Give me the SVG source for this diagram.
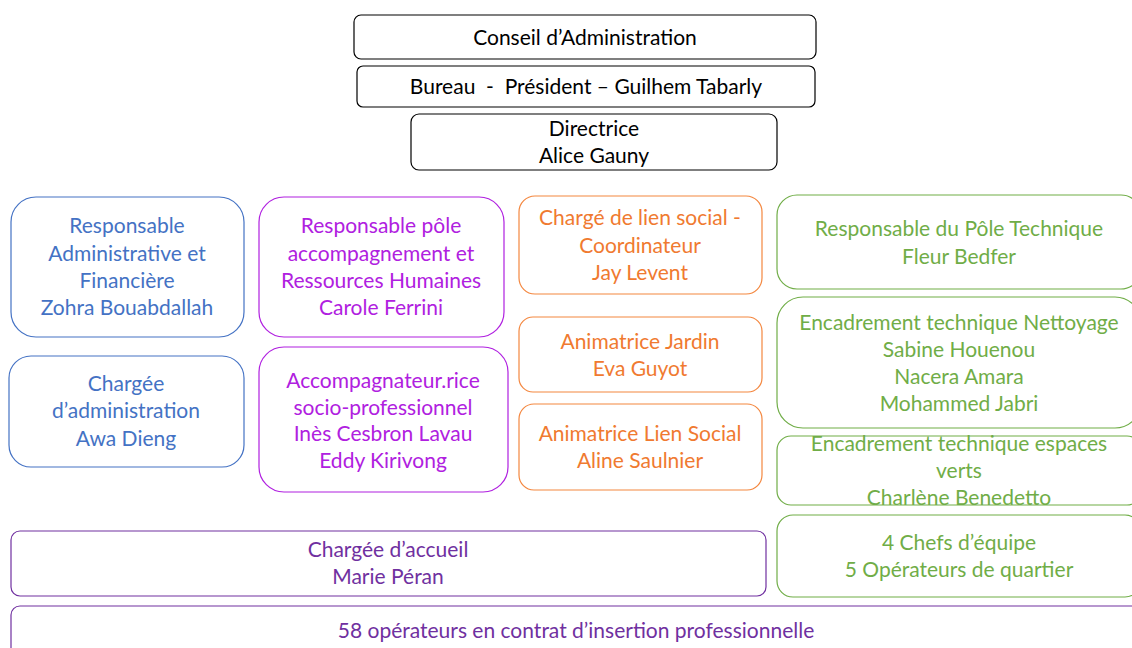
<svg xmlns="http://www.w3.org/2000/svg" width="1132" height="648" viewBox="0 0 1132 648">
<style>
text{font-family:Lato,"Liberation Sans",sans-serif;font-size:21px;text-anchor:middle}
.pre{white-space:pre}
.k rect{fill:#fff;stroke:#000;stroke-width:1.2}
.k text{fill:#000}
.b rect{fill:#fff;stroke:#4472C4;stroke-width:1.2}
.b text{fill:#4472C4}
.m rect{fill:#fff;stroke:#B020E0;stroke-width:1.2}
.m text{fill:#B020E0}
.o rect{fill:#fff;stroke:#F4873F;stroke-width:1.2}
.o text{fill:#F07A30}
.g rect{fill:#fff;stroke:#70AD47;stroke-width:1.2}
.g text{fill:#70AD47}
.p rect{fill:#fff;stroke:#7030A0;stroke-width:1.2}
.p text{fill:#7030A0}
</style>
<rect width="1132" height="648" fill="#fff"/>
<g id="connectors"></g>
<g id="conseil" class="k"><rect x="354" y="15" width="462" height="44" rx="7"/><text x="585" y="45">Conseil d’Administration</text></g>
<g id="bureau" class="k"><rect x="357" y="66" width="458" height="41" rx="6"/><text class="pre" x="586" y="94" xml:space="preserve">Bureau  -  Président – Guilhem Tabarly</text></g>
<g id="directrice" class="k"><rect x="411" y="114" width="366" height="56" rx="8"/><text x="594" y="136">Directrice</text><text x="594" y="163">Alice Gauny</text></g>

<g id="raf" class="b"><rect x="11" y="197" width="233" height="140" rx="25"/><text x="127" y="233">Responsable</text><text x="127" y="261">Administrative et</text><text x="127" y="288">Financière</text><text x="127" y="315">Zohra Bouabdallah</text></g>
<g id="admin" class="b"><rect x="9" y="356" width="235" height="111" rx="22"/><text x="126" y="391">Chargée</text><text x="126" y="418">d’administration</text><text x="126" y="446">Awa Dieng</text></g>

<g id="rh" class="m"><rect x="259" y="197" width="245" height="140" rx="25"/><text x="381" y="233">Responsable pôle</text><text x="381" y="261">accompagnement et</text><text x="381" y="288">Ressources Humaines</text><text x="381" y="315">Carole Ferrini</text></g>
<g id="accomp" class="m"><rect x="259" y="347" width="249" height="145" rx="25"/><text x="383" y="388">Accompagnateur.rice</text><text x="383" y="415">socio-professionnel</text><text x="383" y="441">Inès Cesbron Lavau</text><text x="383" y="468">Eddy Kirivong</text></g>

<g id="lien" class="o"><rect x="519" y="196" width="243" height="98" rx="16"/><text x="640" y="225">Chargé de lien social -</text><text x="640" y="253">Coordinateur</text><text x="640" y="280">Jay Levent</text></g>
<g id="jardin" class="o"><rect x="519" y="317" width="243" height="75" rx="14"/><text x="640" y="349">Animatrice Jardin</text><text x="640" y="376">Eva Guyot</text></g>
<g id="social" class="o"><rect x="519" y="404" width="243" height="86" rx="15"/><text x="640" y="441">Animatrice Lien Social</text><text x="640" y="468">Aline Saulnier</text></g>

<g id="tech" class="g"><rect x="777" y="195" width="364" height="94" rx="20"/><text x="959" y="236">Responsable du Pôle Technique</text><text x="959" y="264">Fleur Bedfer</text></g>
<g id="nettoyage" class="g"><rect x="777" y="297" width="364" height="131" rx="26"/><text x="959" y="330">Encadrement technique Nettoyage</text><text x="959" y="357">Sabine Houenou</text><text x="959" y="384">Nacera Amara</text><text x="959" y="411">Mohammed Jabri</text></g>
<g id="espaces" class="g"><rect x="777" y="436" width="364" height="69" rx="14"/><text x="959" y="451">Encadrement technique espaces</text><text x="959" y="478">verts</text><text x="959" y="505">Charlène Benedetto</text></g>
<g id="chefs" class="g"><rect x="777" y="515" width="364" height="82" rx="16"/><text x="959" y="550">4 Chefs d’équipe</text><text x="959" y="577">5 Opérateurs de quartier</text></g>

<g id="accueil" class="p"><rect x="11" y="531" width="755" height="65" rx="9"/><text x="388" y="557">Chargée d’accueil</text><text x="388" y="584">Marie Péran</text></g>
<g id="operateurs" class="p"><rect x="11" y="606" width="1140" height="60" rx="9"/><text x="576" y="638">58 opérateurs en contrat d’insertion professionnelle</text></g>
</svg>
